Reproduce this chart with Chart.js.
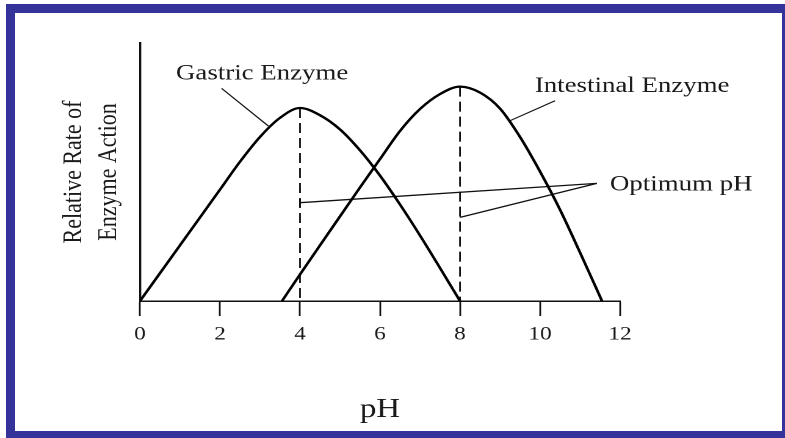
<!DOCTYPE html>
<html>
<head>
<meta charset="utf-8">
<script src="https://cdn.jsdelivr.net/npm/chart.js@4.4.1/dist/chart.umd.min.js"></script>
<style>
  html, body { margin: 0; padding: 0; background: #fff; }
  body { width: 785px; height: 438px; overflow: hidden; position: relative; }
  #wrap { position: absolute; left: 0; top: 0; width: 643px; height: 438px;
          transform: scaleX(1.2208); transform-origin: 0 0; }
  #frame { position: absolute; left: 6px; top: 4px; width: 779px; height: 434px;
           box-sizing: border-box; border: solid #333399;
           border-width: 9px 3px 7px 9px; pointer-events: none; }
</style>
</head>
<body>
<div id="wrap"><canvas id="chart" width="643" height="438"></canvas></div>
<div id="frame"></div>
<script>
// values (relative rate, 0-100 = full axis height)
const gastricPH = [0, 0.5, 1, 1.5, 2, 2.5, 3, 3.5, 4, 4.5, 5, 5.5, 6, 6.5, 7, 7.5, 8];
const gastricRate = [0, 10.8, 21.6, 32.4, 43.2, 54, 63.6, 71, 74.8, 72, 66.5, 58.4, 48.6, 37.4, 25.4, 12.8, 0];

const intestinalPH = [3.55, 4, 4.5, 5, 5.5, 6, 6.5, 7, 7.5, 8, 8.5, 9, 9.5, 10, 10.5, 11, 11.55];
const intestinalRate = [0, 10.3, 21.6, 32.8, 44, 55, 65.9, 74.4, 80.2, 83.1, 80.8, 74.6, 63.6, 50.2, 35.4, 18.8, 0];

const optimumPH = [4, 8];
const xTicks = [0, 2, 4, 6, 8, 10, 12];

// label anchors and leader lines, in data units
const labels = [
  { text: 'Gastric Enzyme', x: 0.9, y: 85.9 },
  { text: 'Intestinal Enzyme', x: 9.87, y: 81.1 },
  { text: 'Optimum pH', x: 11.75, y: 42.8 }
];
const gastricLeader = [[2.04, 82.4], [3.21, 67.8]];
const intestinalLeader = [[10.375, 77.6], [9.21, 69.6]];
const optimumApex = [11.42, 45.6];
const optimumEnds = [[4, 38.1], [8, 32.4]];

const SCALE_X = 1.2208;
const W = 643;
const areaLeft = 140 / SCALE_X;
const areaRight = 620 / SCALE_X;

function pts(xs, ys) {
  return xs.map((x, i) => ({ x: x, y: ys[i] }));
}
function seg(list) {
  return list.map(p => ({ x: p[0], y: p[1] }));
}

const curveStyle = {
  borderColor: '#000', borderWidth: 2.3, pointRadius: 0,
  cubicInterpolationMode: 'monotone', fill: false
};
const thin = { borderColor: '#111', borderWidth: 1.1, pointRadius: 0, fill: false, tension: 0 };

const peakOf = (xs, ys, ph) => ys[xs.indexOf(ph)];

const datasets = [
  Object.assign({ data: pts(gastricPH, gastricRate) }, curveStyle),
  Object.assign({ data: pts(intestinalPH, intestinalRate) }, curveStyle),
  Object.assign({ data: [{ x: optimumPH[0], y: peakOf(gastricPH, gastricRate, 4) }, { x: optimumPH[0], y: 0 }] },
    thin, { borderWidth: 1.4, borderDash: [10, 5] }),
  Object.assign({ data: [{ x: optimumPH[1], y: peakOf(intestinalPH, intestinalRate, 8) }, { x: optimumPH[1], y: 0 }] },
    thin, { borderWidth: 1.4, borderDash: [10, 5] }),
  Object.assign({ data: seg(gastricLeader) }, thin),
  Object.assign({ data: seg(intestinalLeader) }, thin),
  Object.assign({ data: seg([optimumApex, optimumEnds[0]]) }, thin, { borderWidth: 1.3 }),
  Object.assign({ data: seg([optimumApex, optimumEnds[1]]) }, thin, { borderWidth: 1.3 }),
  Object.assign({ data: seg([[4, optimumEnds[0][1] - 1.5], [4, optimumEnds[0][1] + 1.5]]) }, thin, { borderWidth: 1.3 })
];

const textPlugin = {
  id: 'curveLabels',
  afterDraw(chart) {
    const { ctx, scales } = chart;
    ctx.save();
    ctx.fillStyle = '#1a1a1a';
    ctx.font = '22px "Liberation Serif", "DejaVu Serif", serif';
    ctx.textBaseline = 'alphabetic';
    labels.forEach(l => {
      ctx.fillText(l.text, scales.x.getPixelForValue(l.x), scales.y.getPixelForValue(l.y));
    });
    ctx.restore();
  }
};

const whiteBg = {
  id: 'whiteBg',
  beforeDraw(chart) {
    const ctx = chart.ctx;
    ctx.save();
    ctx.fillStyle = '#fff';
    ctx.fillRect(0, 0, chart.width, chart.height);
    ctx.restore();
  }
};

new Chart(document.getElementById('chart'), {
  type: 'line',
  data: { datasets: datasets },
  plugins: [whiteBg, textPlugin],
  options: {
    responsive: false,
    animation: false,
    devicePixelRatio: 2,
    layout: { padding: { left: 0, top: 43, right: W - areaRight, bottom: 0 } },
    plugins: { legend: { display: false }, tooltip: { enabled: false } },
    scales: {
      x: {
        type: 'linear', min: 0, max: 12,
        afterFit: s => { s.height = 438 - 301; },
        afterBuildTicks: s => { s.ticks = xTicks.map(v => ({ value: v })); },
        grid: { drawOnChartArea: false, drawTicks: true, tickLength: 15, tickColor: '#111', tickWidth: 1.4 },
        border: { display: true, color: '#111', width: 1.5 },
        ticks: { color: '#1a1a1a', padding: 7, maxRotation: 0,
                  font: { family: '"Liberation Serif", serif', size: 19 } },
        title: { display: true, text: 'pH', color: '#1a1a1a', padding: { top: 0, bottom: 12 },
                 font: { family: '"Liberation Serif", serif', size: 27, lineHeight: 1.2 } }
      },
      y: {
        type: 'linear', min: 0, max: 100,
        afterFit: s => { s.width = areaLeft; },
        grid: { drawOnChartArea: false, drawTicks: false },
        border: { display: true, color: '#111', width: 1.7 },
        ticks: { display: false },
        title: { display: true, text: ['Relative Rate of', 'Enzyme Action'], color: '#1a1a1a',
                 padding: { top: 46.5, bottom: 0 },
                 font: { family: '"Liberation Serif", serif', size: 22, lineHeight: 1.3 } }
      }
    }
  }
});
</script>
</body>
</html>
